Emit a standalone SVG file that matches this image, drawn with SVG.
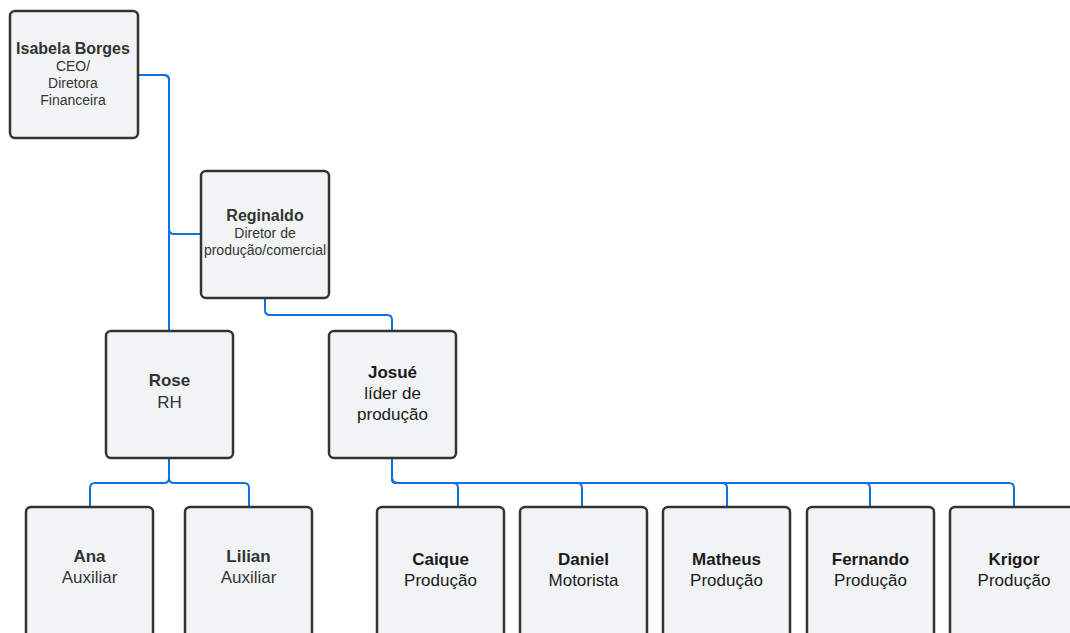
<svg xmlns="http://www.w3.org/2000/svg" width="1070" height="633" viewBox="0 0 1070 633">
<style>
.box{fill:#f2f3f5;stroke:#333333;stroke-width:2.5}
.t{font-family:"Liberation Sans",Arial,sans-serif;text-anchor:middle;fill:#333333}
.b{font-weight:bold}
.k{fill:#1a1a1a}
.s14{font-size:14px}
.s16{font-size:16px}
.s17{font-size:17px}
.c{fill:none;stroke:#1071e5;stroke-width:2}
</style>
<rect width="1070" height="633" fill="#ffffff"/>
<g id="connectors">
<path class="c" d="M138,75 H164 Q169,75 169,80 V331"/>
<path class="c" d="M138,75 H164 Q169,75 169,80 V229 Q169,234 174,234 H201"/>
<path class="c" d="M265,298 V310 Q265,315 270,315 H387 Q392,315 392,320 V331"/>
<path class="c" d="M169,458 V478 Q169,483 164,483 H95 Q90,483 90,488 V507"/>
<path class="c" d="M169,458 V478 Q169,483 174,483 H244 Q249,483 249,488 V507"/>
<path class="c" d="M392,458 V478 Q392,483 397,483 H453 Q458,483 458,488 V507"/>
<path class="c" d="M392,458 V478 Q392,483 397,483 H577 Q582,483 582,488 V507"/>
<path class="c" d="M392,458 V478 Q392,483 397,483 H722 Q727,483 727,488 V507"/>
<path class="c" d="M392,458 V478 Q392,483 397,483 H865 Q870,483 870,488 V507"/>
<path class="c" d="M392,458 V478 Q392,483 397,483 H1009 Q1014,483 1014,488 V507"/>
</g>
<g id="isabela">
<rect class="box" x="10" y="11" width="128" height="127" rx="5"/>
<text class="t b s16" x="73" y="54">Isabela Borges</text>
<text class="t s14" x="73" y="71">CEO/</text>
<text class="t s14" x="73" y="88">Diretora</text>
<text class="t s14" x="73" y="105">Financeira</text>
</g>
<g id="reginaldo">
<rect class="box" x="201" y="171" width="128" height="127" rx="5"/>
<text class="t b s16" x="265" y="221">Reginaldo</text>
<text class="t s14" x="265" y="238">Diretor de</text>
<text class="t s14" x="265" y="255">produção/comercial</text>
</g>
<g id="rose">
<rect class="box" x="106" y="331" width="127" height="127" rx="5"/>
<text class="t b s17" x="169.5" y="386">Rose</text>
<text class="t s17" x="169.5" y="408">RH</text>
</g>
<g id="josue">
<rect class="box" x="329" y="331" width="127" height="127" rx="5"/>
<text class="t b s17 k" x="392.5" y="378">Josué</text>
<text class="t s17 k" x="392.5" y="399">líder de</text>
<text class="t s17 k" x="392.5" y="420">produção</text>
</g>
<g id="ana">
<rect class="box" x="26" y="507" width="127" height="140" rx="5"/>
<text class="t b s17" x="89.5" y="562">Ana</text>
<text class="t s17" x="89.5" y="583">Auxiliar</text>
</g>
<g id="lilian">
<rect class="box" x="185" y="507" width="127" height="140" rx="5"/>
<text class="t b s17" x="248.5" y="562">Lilian</text>
<text class="t s17" x="248.5" y="583">Auxiliar</text>
</g>
<g id="caique">
<rect class="box" x="377" y="507" width="127" height="140" rx="5"/>
<text class="t b s17 k" x="440.5" y="565">Caique</text>
<text class="t s17 k" x="440.5" y="586">Produção</text>
</g>
<g id="daniel">
<rect class="box" x="520" y="507" width="127" height="140" rx="5"/>
<text class="t b s17 k" x="583.5" y="565">Daniel</text>
<text class="t s17 k" x="583.5" y="586">Motorista</text>
</g>
<g id="matheus">
<rect class="box" x="663" y="507" width="127" height="140" rx="5"/>
<text class="t b s17 k" x="726.5" y="565">Matheus</text>
<text class="t s17 k" x="726.5" y="586">Produção</text>
</g>
<g id="fernando">
<rect class="box" x="807" y="507" width="127" height="140" rx="5"/>
<text class="t b s17 k" x="870.5" y="565">Fernando</text>
<text class="t s17 k" x="870.5" y="586">Produção</text>
</g>
<g id="krigor">
<rect class="box" x="950" y="507" width="128" height="140" rx="5"/>
<text class="t b s17 k" x="1014" y="565">Krigor</text>
<text class="t s17 k" x="1014" y="586">Produção</text>
</g>
</svg>
